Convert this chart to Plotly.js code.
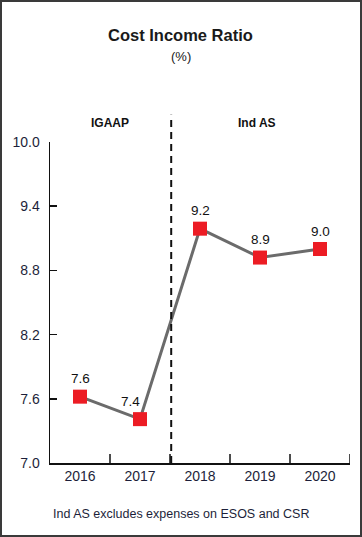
<!DOCTYPE html>
<html>
<head>
<meta charset="utf-8">
<script src="https://cdn.plot.ly/plotly-3.0.1.min.js"></script>
<style>
html,body{margin:0;padding:0;background:#fff;}
#wrap{position:relative;width:362px;height:537px;}
#chart{width:362px;height:537px;}
#frame{position:absolute;left:0;top:0;width:362px;height:537px;box-sizing:border-box;border:2px solid #3a3a3a;pointer-events:none;}
</style>
</head>
<body>
<div id="wrap"><div id="chart"></div><div id="frame"></div></div>
<script>
const years = ['2016', '2017', '2018', '2019', '2020'];
const ratio = [7.62, 7.41, 9.19, 8.92, 9.0];
const valueLabels = ['7.6', '7.4', '9.2', '8.9', '9.0'];
const yTicks = [7.0, 7.6, 8.2, 8.8, 9.4, 10.0];
const yTickText = ['7.0', '7.6', '8.2', '8.8', '9.4', '10.0'];
const regimes = ['IGAAP', 'Ind AS'];
const titleText = 'Cost Income Ratio';
const unitText = '(%)';
const noteText = 'Ind AS excludes expenses on ESOS and CSR';

const font = 'Liberation Sans, Arial, sans-serif';
const txtColor = '#1d1f3a';

const trace = {
  x: [0, 1, 2, 3, 4],
  y: ratio,
  type: 'scatter',
  mode: 'lines+markers',
  line: {color: '#6b6b6b', width: 3},
  marker: {symbol: 'square', size: 14, color: '#ec1c24'},
  hoverinfo: 'skip'
};

const labelShift = [0, -10, 0, 0, 0];
const annotations = ratio.map((v, i) => ({
  x: i, y: v, xref: 'x', yref: 'y', text: valueLabels[i], showarrow: false,
  yshift: 18, xshift: labelShift[i], font: {family: font, size: 13.5, color: '#111'}
}));
annotations.push(
  {x: 0.5, y: 1.059, xref: 'x', yref: 'paper', yanchor: 'middle', text: '<b>' + regimes[0] + '</b>', showarrow: false, font: {family: font, size: 12, color: '#111'}},
  {x: 2.95, y: 1.059, xref: 'x', yref: 'paper', yanchor: 'middle', text: '<b>' + regimes[1] + '</b>', showarrow: false, font: {family: font, size: 12, color: '#111'}},
  {x: 0.435, y: 1.333, xref: 'paper', yref: 'paper', yanchor: 'middle', text: '<b>' + titleText + '</b>', showarrow: false, font: {family: font, size: 16.5, color: '#1a1a1a'}},
  {x: 0.435, y: 1.265, xref: 'paper', yref: 'paper', yanchor: 'middle', text: unitText, showarrow: false, font: {family: font, size: 13, color: '#1a1a1a'}},
  {x: 0.435, y: -0.159, xref: 'paper', yref: 'paper', yanchor: 'middle', text: noteText, showarrow: false, font: {family: font, size: 12.5, color: txtColor}}
);

const layout = {
  width: 362, height: 537,
  margin: {l: 50, r: 12, t: 142, b: 74},
  paper_bgcolor: '#fff', plot_bgcolor: '#fff',
  showlegend: false,
  xaxis: {
    range: [-0.5, 4.5], tickmode: 'array', tickvals: [0, 1, 2, 3, 4], ticktext: years,
    showgrid: false, zeroline: false, showline: true, linecolor: '#111', linewidth: 1.5,
    ticks: '', tickfont: {family: font, size: 14, color: txtColor}, fixedrange: true
  },
  yaxis: {
    range: [7.0, 10.0], tickmode: 'array', tickvals: yTicks, ticktext: yTickText,
    showgrid: false, zeroline: false, showline: true, linecolor: '#111', linewidth: 1.5,
    ticks: 'inside', ticklen: 7, tickcolor: '#111', tickwidth: 1.5,
    ticklabelstandoff: 6,
    tickfont: {family: font, size: 14, color: txtColor}, fixedrange: true
  },
  shapes: [
    {type: 'line', xref: 'x', yref: 'paper', x0: 1.52, x1: 1.52, y0: 0, y1: 1.085,
     line: {color: '#111', width: 2, dash: '7px,5px'}}
  ].concat([0.5, 1.5, 2.5, 3.5, 4.5].map(b => ({
    type: 'line', xref: 'x', yref: 'paper', x0: b, x1: b, y0: 0, y1: 0.028,
    line: {color: '#111', width: 1.5}
  }))),
  annotations: annotations
};

Plotly.newPlot('chart', [trace], layout, {displayModeBar: false, staticPlot: true});
</script>
</body>
</html>
